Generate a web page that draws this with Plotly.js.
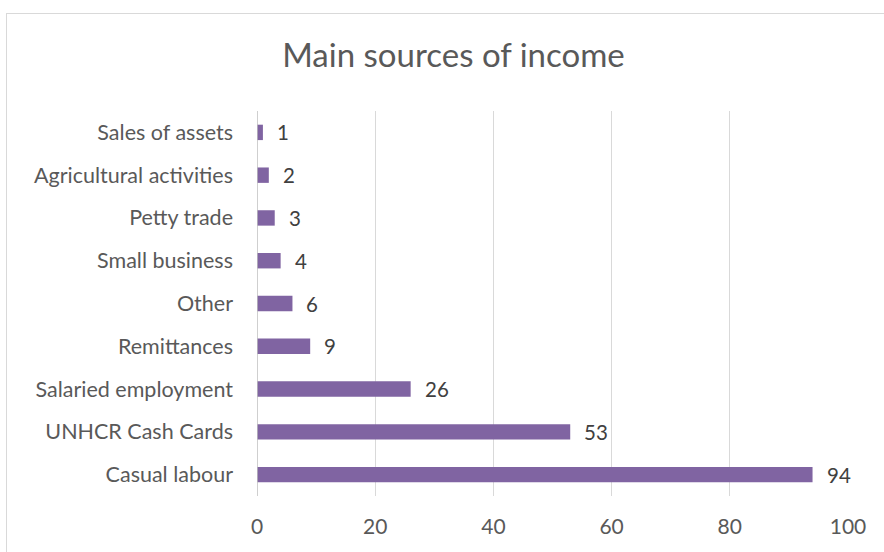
<!DOCTYPE html>
<html>
<head>
<meta charset="utf-8">
<script src="https://cdn.plot.ly/plotly-3.0.1.min.js"></script>
<style>
html,body{margin:0;padding:0;background:#fff;}
#frame{position:absolute;left:6px;top:13px;width:884px;height:560px;border:1px solid #d9d9d9;box-sizing:border-box;}
#chart{position:absolute;left:0;top:0;width:884px;height:552px;}
</style>
</head>
<body>
<div id="frame"></div>
<div id="chart"></div>
<script>
const categories = ["Casual labour","UNHCR Cash Cards","Salaried employment","Remittances","Other","Small business","Petty trade","Agricultural activities","Sales of assets"];
const values = [94,53,26,9,6,4,3,2,1];
const xTicks = [0,20,40,60,80,100];

const FONT = 'Lato, "Open Sans", sans-serif';

const trace = {
  type: 'bar',
  orientation: 'h',
  y: categories,
  x: values,
  marker: {color: '#8064A2'},
  width: 0.36,
  hoverinfo: 'none'
};

const annotations = categories.map((c, i) => ({
  x: values[i], y: c, xref: 'x', yref: 'y',
  text: String(values[i]), showarrow: false,
  xanchor: 'left', xshift: 12,
  font: {family: FONT, size: 20.5, color: '#404040'}
}));

const layout = {
  width: 884, height: 552,
  paper_bgcolor: 'rgba(0,0,0,0)',
  plot_bgcolor: 'rgba(0,0,0,0)',
  margin: {l: 257, r: 36, t: 111, b: 56},
  showlegend: false,
  title: {
    text: 'Main sources of income',
    x: 0.513, xanchor: 'center', y: 0.9, yanchor: 'middle',
    font: {family: FONT, size: 33, color: '#595959'}
  },
  xaxis: {
    range: [0, 100],
    tickvals: xTicks,
    ticktext: xTicks.map(String),
    showgrid: true, gridcolor: '#d9d9d9', gridwidth: 1,
    zeroline: false, showline: false,
    ticks: '', ticklabelstandoff: 16,
    tickfont: {family: FONT, size: 21, color: '#595959'},
    fixedrange: true
  },
  yaxis: {
    categoryorder: 'array', categoryarray: categories,
    showgrid: false, zeroline: false,
    showline: false,
    ticks: '', ticklabelstandoff: 23,
    tickfont: {family: FONT, size: 21.5, color: '#595959'},
    fixedrange: true
  },
  shapes: [{type: 'line', xref: 'x', yref: 'paper', x0: 0, x1: 0, y0: 0, y1: 1, line: {color: '#bfbfbf', width: 1.5}}],
  annotations: annotations
};

Plotly.newPlot('chart', [trace], layout, {displayModeBar: false, staticPlot: true});
</script>
</body>
</html>
